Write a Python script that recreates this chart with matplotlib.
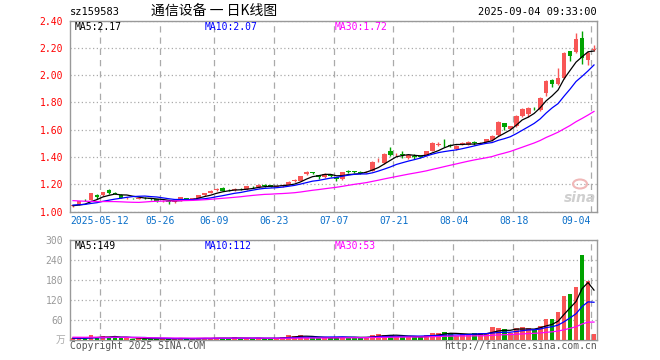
import matplotlib
matplotlib.use('Agg')
import matplotlib.pyplot as plt
from matplotlib.patches import Ellipse
import numpy as np
import pandas as pd

# daily candles, 2025-04-30 .. 2025-09-04 (88 trading days)
opens = [1.040, 1.050, 1.085, 1.085, 1.120, 1.118, 1.160, 1.134, 1.122, 1.098,
         1.098, 1.095, 1.098, 1.096, 1.092, 1.074, 1.074, 1.068, 1.082, 1.100,
         1.094, 1.098, 1.118, 1.138, 1.158, 1.172, 1.156, 1.158, 1.166, 1.162,
         1.182, 1.176, 1.194, 1.192, 1.180, 1.186, 1.196, 1.224, 1.222, 1.272,
         1.286, 1.266, 1.252, 1.264, 1.250, 1.236, 1.292, 1.292, 1.286, 1.286,
         1.300, 1.376, 1.352, 1.440, 1.418, 1.420, 1.392, 1.404, 1.402, 1.414,
         1.445, 1.488, 1.504, 1.488, 1.458, 1.496, 1.488, 1.506, 1.498, 1.508,
         1.524, 1.560, 1.648, 1.602, 1.626, 1.700, 1.712, 1.756, 1.745, 1.865,
         1.966, 1.932, 1.976, 2.176, 2.168, 2.272, 2.112, 2.186]
highs = [1.048, 1.080, 1.090, 1.135, 1.125, 1.145, 1.165, 1.140, 1.125, 1.105,
         1.102, 1.102, 1.104, 1.100, 1.095, 1.082, 1.078, 1.080, 1.106, 1.102,
         1.102, 1.120, 1.138, 1.155, 1.175, 1.176, 1.162, 1.172, 1.170, 1.186,
         1.186, 1.200, 1.200, 1.194, 1.192, 1.198, 1.222, 1.240, 1.262, 1.300,
         1.290, 1.270, 1.282, 1.272, 1.252, 1.292, 1.305, 1.296, 1.294, 1.300,
         1.372, 1.392, 1.428, 1.470, 1.432, 1.445, 1.416, 1.418, 1.410, 1.445,
         1.510, 1.506, 1.530, 1.498, 1.484, 1.510, 1.514, 1.520, 1.508, 1.530,
         1.560, 1.665, 1.652, 1.630, 1.708, 1.756, 1.765, 1.768, 1.836, 1.962,
         1.972, 2.055, 2.168, 2.180, 2.310, 2.320, 2.176, 2.222]
lows = [1.035, 1.048, 1.078, 1.083, 1.090, 1.115, 1.128, 1.125, 1.098, 1.090,
        1.088, 1.090, 1.092, 1.086, 1.072, 1.070, 1.058, 1.064, 1.080, 1.090,
        1.090, 1.096, 1.114, 1.134, 1.150, 1.148, 1.148, 1.150, 1.156, 1.160,
        1.170, 1.172, 1.182, 1.176, 1.176, 1.182, 1.192, 1.216, 1.220, 1.268,
        1.276, 1.240, 1.248, 1.252, 1.225, 1.232, 1.282, 1.285, 1.274, 1.280,
        1.296, 1.366, 1.348, 1.410, 1.404, 1.390, 1.386, 1.382, 1.392, 1.410,
        1.440, 1.480, 1.470, 1.470, 1.454, 1.488, 1.484, 1.488, 1.494, 1.504,
        1.520, 1.556, 1.600, 1.596, 1.620, 1.696, 1.690, 1.742, 1.740, 1.850,
        1.910, 1.928, 1.972, 2.100, 2.160, 2.080, 2.076, 2.180]
closes = [1.042, 1.075, 1.082, 1.132, 1.105, 1.140, 1.132, 1.130, 1.102, 1.100,
          1.096, 1.098, 1.097, 1.092, 1.076, 1.078, 1.066, 1.076, 1.104, 1.094,
          1.098, 1.118, 1.136, 1.152, 1.164, 1.152, 1.154, 1.164, 1.162, 1.184,
          1.178, 1.196, 1.190, 1.178, 1.188, 1.195, 1.216, 1.228, 1.258, 1.292,
          1.283, 1.250, 1.276, 1.260, 1.240, 1.288, 1.290, 1.290, 1.283, 1.292,
          1.366, 1.380, 1.422, 1.416, 1.422, 1.412, 1.412, 1.396, 1.400, 1.440,
          1.500, 1.494, 1.500, 1.482, 1.480, 1.500, 1.510, 1.500, 1.502, 1.528,
          1.556, 1.658, 1.618, 1.624, 1.702, 1.752, 1.760, 1.755, 1.830, 1.958,
          1.935, 1.975, 2.162, 2.140, 2.262, 2.128, 2.160, 2.192]
# volume, unit 万
vols = [5, 7, 3, 15, 7, 12, 8, 11, 5, 6,
        4, 5, 3, 3, 4, 5, 3, 4, 6, 3,
        4, 5, 6, 5, 7, 5, 4, 9, 4, 5,
        4, 6, 4, 5, 6, 8, 15, 12, 15, 7,
        5, 7, 6, 10, 7, 10, 7, 7, 8, 8,
        15, 18, 15, 14, 10, 10, 10, 10, 8, 14,
        22, 20, 25, 20, 12, 17, 15, 22, 22, 17,
        38, 36, 32, 22, 35, 40, 36, 30, 42, 63,
        62, 85, 132, 139, 159, 255, 177, 18]

# rough closes / volumes before the window, only to seed the moving averages
pre_close = [1.15, 1.14, 1.16, 1.15, 1.14, 1.13, 1.14, 1.15, 1.16, 1.14,
             1.12, 1.01, 0.99, 1.02, 1.04, 1.05, 1.04, 1.06, 1.07, 1.06,
             1.05, 1.06, 1.06, 1.05, 1.04, 1.05, 1.05, 1.04, 1.03]
pre_vol = [9, 8, 10, 12, 9, 8, 7, 9, 10, 8, 14, 20, 16, 11, 9,
           8, 7, 6, 7, 6, 5, 6, 7, 6, 5, 6, 5, 6, 5]

tick_idx = [5, 15, 24, 34, 44, 54, 64, 74, 87]
tick_lbl = ['2025-05-12', '05-26', '06-09', '06-23', '07-07', '07-21', '08-04', '08-18', '09-04']

RED = '#f85656'
GREEN = '#00a300'
GRID = '#aaaaaa'
MONO = 'DejaVu Sans Mono'

n = len(closes)
x = np.arange(n)
o = np.array(opens); h = np.array(highs); l = np.array(lows); c = np.array(closes)
up = c >= o
cols = np.where(up, RED, GREEN)

s = pd.Series(pre_close + closes)
ma = {k: s.rolling(k).mean().to_numpy()[len(pre_close):] for k in (5, 10, 30)}
sv = pd.Series(pre_vol + vols, dtype=float)
vma = {k: sv.rolling(k).mean().to_numpy()[len(pre_vol):] for k in (5, 10, 30)}

W, H = 660, 360
fig = plt.figure(figsize=(6.6, 3.6), dpi=100)
ax1 = fig.add_axes([70 / W, 1 - 211.5 / H, 527 / W, 191 / H])
ax2 = fig.add_axes([70 / W, 20 / H, 527 / W, 100 / H])

def fx(px):
    return px / W

def fy(py):
    return 1 - py / H

# candles
body_lo = np.minimum(o, c)
body_h = np.maximum(np.abs(c - o), 0.004)
ax1.vlines(x, l, h, colors=cols, linewidth=1.0, zorder=2)
ax1.bar(x, body_h, bottom=body_lo, width=0.8, color=cols, linewidth=0, zorder=3)
ax1.plot(x, ma[5], color='black', lw=0.9, zorder=4)
ax1.plot(x, ma[10], color='#0000ff', lw=0.9, zorder=4)
ax1.plot(x, ma[30], color='#ff00ff', lw=0.9, zorder=4)
ax1.set_ylim(1.0, 2.4)
ax1.set_yticks(np.arange(1.0, 2.41, 0.2))
ax1.set_yticklabels(['%.2f' % v for v in np.arange(1.0, 2.41, 0.2)])
ax1.tick_params(axis='y', colors='red', labelsize=7, length=0, pad=5)

# volume
ax2.bar(x, vols, width=0.8, color=cols, linewidth=0, zorder=3)
ax2.plot(x, vma[5], color='black', lw=0.9, zorder=4)
ax2.plot(x, vma[10], color='#0000ff', lw=0.9, zorder=4)
ax2.plot(x, vma[30], color='#ff00ff', lw=0.9, zorder=4)
ax2.set_ylim(0, 300)
ax2.set_yticks([60, 120, 180, 240, 300])
ax2.tick_params(axis='y', colors='#999999', labelsize=7, length=0, pad=5)

for ax in (ax1, ax2):
    ax.set_xlim(-0.5, n - 0.5)
    ax.set_xticks([i - 0.5 for i in tick_idx])
    ax.set_xticklabels([])
    ax.tick_params(axis='x', length=0)
    ax.xaxis.grid(True, color=GRID, linestyle=(0, (5, 4)), linewidth=0.9)
    ax.yaxis.grid(True, color=GRID, linestyle=(0, (1, 2)), linewidth=0.9)
    ax.set_axisbelow(True)
    for sp in ax.spines.values():
        sp.set_color('#999999')
        sp.set_linewidth(1.0)
    for t in ax.get_yticklabels():
        t.set_family(MONO)

# date labels between the panels
for i, lbl in zip(tick_idx, tick_lbl):
    px = 70 + i * 6
    ha = 'center'
    if i == tick_idx[-1]:
        px, ha = 591, 'right'
    fig.text(fx(px), fy(221), lbl, color='#0a6fc9', fontsize=7, family=MONO,
             ha=ha, va='center')

# headers
fig.text(fx(70), fy(12), 'sz159583', fontsize=7.5, family=MONO, ha='left', va='center')
fig.text(fx(214), fy(11), '通信设备 一 日K线图', fontsize=10,
         family=['Noto Sans CJK SC', 'DejaVu Sans'], ha='center', va='center')
fig.text(fx(597), fy(12), '2025-09-04 09:33:00', fontsize=7.5, family=MONO,
         ha='right', va='center')

fig.text(fx(75), fy(27), 'MA5:2.17', fontsize=7, family=MONO, color='black', va='center')
fig.text(fx(205), fy(27), 'MA10:2.07', fontsize=7, family=MONO, color='#0000ff', va='center')
fig.text(fx(335), fy(27), 'MA30:1.72', fontsize=7, family=MONO, color='#ff00ff', va='center')

fig.text(fx(75), fy(246), 'MA5:149', fontsize=7, family=MONO, color='black', va='center')
fig.text(fx(205), fy(246), 'MA10:112', fontsize=7, family=MONO, color='#0000ff', va='center')
fig.text(fx(335), fy(246), 'MA30:53', fontsize=7, family=MONO, color='#ff00ff', va='center')

fig.text(fx(65), fy(340), '万', fontsize=7, color='#aaaaaa', ha='right', va='center',
         family=['Noto Sans CJK SC', 'DejaVu Sans'])

fig.text(fx(70), fy(346), 'Copyright 2025 SINA.COM', fontsize=7, family=MONO,
         color='#555555', ha='left', va='center')
fig.text(fx(597), fy(346), 'http://finance.sina.com.cn', fontsize=7, family=MONO,
         color='#555555', ha='right', va='center')

# sina watermark
fig.text(fx(596), fy(198), 'sina', fontsize=10, fontweight='bold', style='italic',
         color='#cfcfcf', ha='right', va='center')
fig.patches.append(Ellipse((fx(580), fy(184)), 14 / W, 9 / H, transform=fig.transFigure,
                           facecolor='none', edgecolor='#f0b8b8', linewidth=1.5))

fig.savefig('out.png', dpi=100)
